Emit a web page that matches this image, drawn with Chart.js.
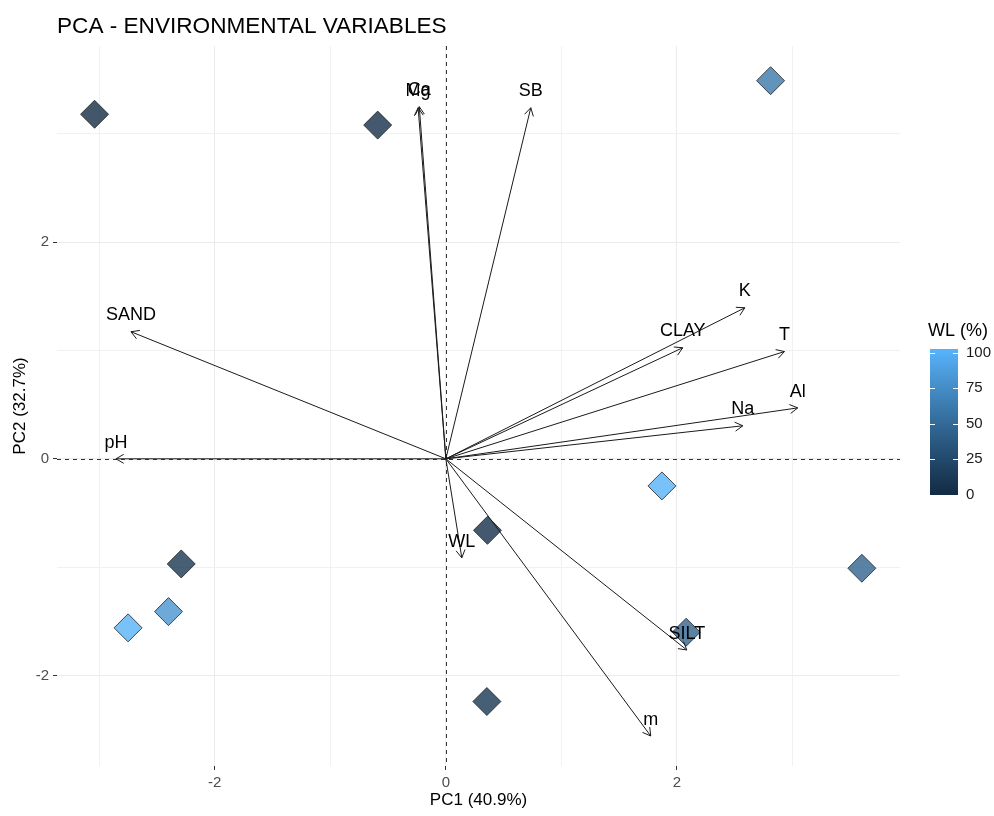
<!DOCTYPE html>
<html>
<head>
<meta charset="utf-8">
<title>PCA - ENVIRONMENTAL VARIABLES</title>
<script src="https://cdn.jsdelivr.net/npm/chart.js@4.4.1/dist/chart.umd.min.js"></script>
<style>
  html, body { margin: 0; padding: 0; background: #ffffff; }
  #wrap { width: 994px; height: 816px; position: relative; }
</style>
</head>
<body>
<div id="wrap"><canvas id="pca" width="994" height="816"></canvas></div>
<script>
// Site scores on PC1 / PC2 and the water level (WL, %) of each site
const siteX  = [-3.04, -0.59, 2.81, 1.87, 3.60, 0.36, 2.08, 0.355, -2.29, -2.40, -2.75];
const siteY  = [ 3.18,  3.08, 3.49, -0.25, -1.01, -0.66, -1.60, -2.24, -0.97, -1.41, -1.56];
const siteWL = [ 2, 4, 60, 100, 45, 3, 45, 10, 10, 80, 100];

// Variable loadings (arrow tips)
const varNames = ['Ca', 'Mg', 'SB', 'K', 'CLAY', 'T', 'Al', 'Na', 'SAND', 'pH', 'WL', 'SILT', 'm'];
const varX = [-0.23, -0.24, 0.735, 2.587, 2.05, 2.93, 3.045, 2.57, -2.725, -2.855, 0.138, 2.085, 1.773];
const varY = [ 3.25,  3.24, 3.24,  1.394, 1.025, 0.99, 0.47, 0.305, 1.173, 0.0, -0.914, -1.764, -2.558];

// Axis tick labels and colour-bar breaks
const xTickLabels = [-2, 0, 2];
const yTickLabels = [-2, 0, 2];
const wlBreaks = [0, 25, 50, 75, 100];

const FONT = "'Liberation Sans', Arial, Helvetica, sans-serif";

// ---- continuous colour scale (#132B43 -> #56B1F7, interpolated in CIE Lab) ----
function hexToRgb(h) { const n = parseInt(h.slice(1), 16); return [(n >> 16) & 255, (n >> 8) & 255, n & 255]; }
function srgbToLin(c) { c /= 255; return c <= 0.04045 ? c / 12.92 : Math.pow((c + 0.055) / 1.055, 2.4); }
function linToSrgb(c) { const v = c <= 0.0031308 ? 12.92 * c : 1.055 * Math.pow(c, 1 / 2.4) - 0.055; return Math.max(0, Math.min(255, Math.round(v * 255))); }
const WX = 0.95047, WY = 1.0, WZ = 1.08883;
function fLab(t) { return t > 216 / 24389 ? Math.cbrt(t) : (24389 / 27 * t + 16) / 116; }
function fInv(t) { const t3 = t * t * t; return t3 > 216 / 24389 ? t3 : (116 * t - 16) / (24389 / 27); }
function rgbToLab(rgb) {
  const [r, g, b] = rgb.map(srgbToLin);
  const x = (0.4124564 * r + 0.3575761 * g + 0.1804375 * b) / WX;
  const y = (0.2126729 * r + 0.7151522 * g + 0.0721750 * b) / WY;
  const z = (0.0193339 * r + 0.1191920 * g + 0.9503041 * b) / WZ;
  const fx = fLab(x), fy = fLab(y), fz = fLab(z);
  return [116 * fy - 16, 500 * (fx - fy), 200 * (fy - fz)];
}
function labToRgb(lab) {
  const fy = (lab[0] + 16) / 116, fx = fy + lab[1] / 500, fz = fy - lab[2] / 200;
  const x = fInv(fx) * WX, y = fInv(fy) * WY, z = fInv(fz) * WZ;
  const r =  3.2404542 * x - 1.5371385 * y - 0.4985314 * z;
  const g = -0.9692660 * x + 1.8760108 * y + 0.0415560 * z;
  const b =  0.0556434 * x - 0.2040259 * y + 1.0572252 * z;
  return [linToSrgb(r), linToSrgb(g), linToSrgb(b)];
}
const LAB_LOW = rgbToLab(hexToRgb('#132B43'));
const LAB_HIGH = rgbToLab(hexToRgb('#56B1F7'));
function wlColour(v, alpha) {
  const t = Math.max(0, Math.min(1, v / 100));
  const lab = LAB_LOW.map((c, i) => c + (LAB_HIGH[i] - c) * t);
  const [r, g, b] = labToRgb(lab);
  return alpha === undefined ? `rgb(${r},${g},${b})` : `rgba(${r},${g},${b},${alpha})`;
}

// ---- overlay: zero lines, loading arrows, labels, title, colour bar ----
const pcaOverlay = {
  id: 'pcaOverlay',
  beforeDatasetsDraw(chart) {
    const { ctx, chartArea: a, scales: { x, y } } = chart;
    ctx.save();
    ctx.strokeStyle = '#333333';
    ctx.lineWidth = 1;
    ctx.setLineDash([4, 4]);
    const x0 = Math.round(x.getPixelForValue(0)) + 0.5;
    const y0 = Math.round(y.getPixelForValue(0)) + 0.5;
    ctx.beginPath();
    ctx.moveTo(x0, a.top); ctx.lineTo(x0, a.bottom);
    ctx.moveTo(a.left, y0); ctx.lineTo(a.right, y0);
    ctx.stroke();
    ctx.restore();
  },
  afterDatasetsDraw(chart) {
    const { ctx, scales: { x, y } } = chart;
    const ox = x.getPixelForValue(0), oy = y.getPixelForValue(0);
    ctx.save();
    ctx.strokeStyle = '#1a1a1a';
    ctx.lineWidth = 1;
    ctx.setLineDash([]);
    for (let i = 0; i < varNames.length; i++) {
      const tx = x.getPixelForValue(varX[i]), ty = y.getPixelForValue(varY[i]);
      const ang = Math.atan2(ty - oy, tx - ox);
      const head = 9, spread = Math.PI / 6;
      ctx.beginPath();
      ctx.moveTo(ox, oy); ctx.lineTo(tx, ty);
      ctx.moveTo(tx - head * Math.cos(ang - spread), ty - head * Math.sin(ang - spread));
      ctx.lineTo(tx, ty);
      ctx.lineTo(tx - head * Math.cos(ang + spread), ty - head * Math.sin(ang + spread));
      ctx.stroke();
    }
    ctx.fillStyle = '#000000';
    ctx.font = `18px ${FONT}`;
    ctx.textAlign = 'center';
    ctx.textBaseline = 'middle';
    for (let i = 0; i < varNames.length; i++) {
      ctx.fillText(varNames[i], x.getPixelForValue(varX[i]), y.getPixelForValue(varY[i] + 0.15));
    }
    ctx.restore();
  },
  afterDraw(chart) {
    const { ctx, chartArea: a } = chart;
    ctx.save();
    // plot title
    ctx.fillStyle = '#000000';
    ctx.font = `22.6px ${FONT}`;
    ctx.textAlign = 'left';
    ctx.textBaseline = 'middle';
    ctx.fillText('PCA - ENVIRONMENTAL VARIABLES', a.left, 27);

    // colour bar legend for WL (%)
    const barL = 930, barW = 28, barT = 349, barB = 495;
    const v2y = v => 494.5 - (v / 100) * 142;
    ctx.font = `18px ${FONT}`;
    ctx.fillText('WL (%)', 928, 331);
    const grad = ctx.createLinearGradient(0, v2y(0), 0, v2y(100));
    for (let k = 0; k <= 20; k++) grad.addColorStop(k / 20, wlColour(k * 5));
    ctx.fillStyle = grad;
    ctx.fillRect(barL, barT, barW, barB - barT);
    ctx.strokeStyle = '#ffffff';
    ctx.lineWidth = 1;
    ctx.beginPath();
    wlBreaks.forEach(v => {
      const yy = Math.round(v2y(v)) + 0.5;
      ctx.moveTo(barL, yy); ctx.lineTo(barL + 5, yy);
      ctx.moveTo(barL + barW - 5, yy); ctx.lineTo(barL + barW, yy);
    });
    ctx.stroke();
    ctx.fillStyle = '#1a1a1a';
    ctx.font = `15px ${FONT}`;
    ctx.textAlign = 'left';
    wlBreaks.forEach(v => ctx.fillText(String(v), 966, v2y(v)));
    ctx.restore();
  }
};

const isMajorX = v => xTickLabels.includes(v);
const isMajorY = v => yTickLabels.includes(v);

new Chart(document.getElementById('pca'), {
  type: 'scatter',
  data: {
    datasets: [{
      label: 'Sites',
      data: siteX.map((v, i) => ({ x: v, y: siteY[i] })),
      pointStyle: 'rectRot',
      pointRadius: 14,
      pointHoverRadius: 14,
      backgroundColor: siteWL.map(v => wlColour(v, 0.8)),
      borderColor: '#222222',
      borderWidth: 0.8
    }]
  },
  options: {
    responsive: false,
    animation: false,
    events: [],
    layout: { padding: { left: 0, right: 94, top: 46, bottom: 0 } },
    plugins: { legend: { display: false }, tooltip: { enabled: false }, title: { display: false } },
    scales: {
      x: {
        type: 'linear',
        min: -3.365, max: 3.93,
        afterBuildTicks: s => { s.ticks = [-3, -2, -1, 0, 1, 2, 3].map(v => ({ value: v })); },
        afterFit: s => { s.height = 50; },
        border: { display: false },
        grid: {
          color: c => (c.tick && isMajorX(c.tick.value)) ? '#ebebeb' : '#f1f1f1',
          lineWidth: 1,
          tickColor: c => (c.tick && isMajorX(c.tick.value)) ? '#333333' : 'rgba(0,0,0,0)',
          tickLength: 4,
          drawTicks: true
        },
        ticks: {
          autoSkip: false, maxRotation: 0, padding: 4,
          color: '#4d4d4d', font: { family: FONT, size: 15 },
          callback: v => isMajorX(v) ? String(v) : ''
        },
        title: { display: true, text: 'PC1 (40.9%)', color: '#000000', font: { family: FONT, size: 17 }, padding: { top: 0, bottom: 5 } }
      },
      y: {
        type: 'linear',
        min: -2.835, max: 3.81,
        afterBuildTicks: s => { s.ticks = [-2, -1, 0, 1, 2, 3].map(v => ({ value: v })); },
        afterFit: s => { s.width = 57; },
        border: { display: false },
        grid: {
          color: c => (c.tick && isMajorY(c.tick.value)) ? '#ebebeb' : '#f1f1f1',
          lineWidth: 1,
          tickColor: c => (c.tick && isMajorY(c.tick.value)) ? '#333333' : 'rgba(0,0,0,0)',
          tickLength: 4,
          drawTicks: true
        },
        ticks: {
          autoSkip: false, padding: 4,
          color: '#4d4d4d', font: { family: FONT, size: 15 },
          callback: v => isMajorY(v) ? String(v) : ''
        },
        title: { display: true, text: 'PC2 (32.7%)', color: '#000000', font: { family: FONT, size: 17 }, padding: { top: 10, bottom: 0 } }
      }
    }
  },
  plugins: [pcaOverlay]
});
</script>
</body>
</html>
